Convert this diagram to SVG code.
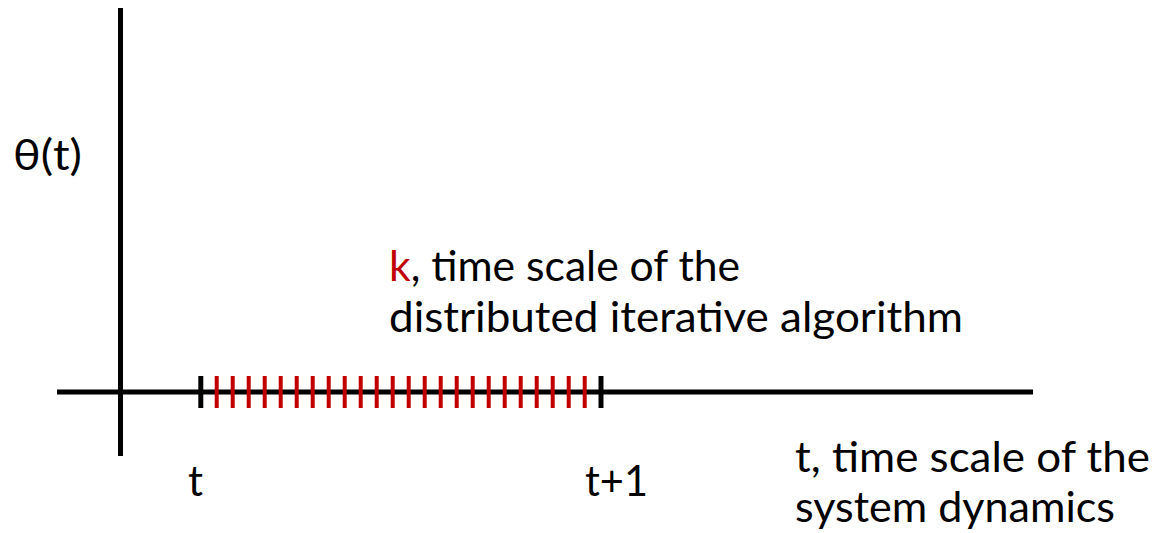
<svg xmlns="http://www.w3.org/2000/svg" width="1159" height="533" viewBox="0 0 1159 533">
<style>
.ax{stroke:#000;stroke-width:5;fill:none}
.tb{stroke:#000;stroke-width:5}
.tr{stroke:#c00000;stroke-width:4}
text{font-family:"Lato","Open Sans","Liberation Sans",sans-serif;font-size:43px;fill:#000}
.red{fill:#c00000}
</style>
<g id="axes">
<line class="ax" x1="120.5" y1="8" x2="120.5" y2="456"/>
<line class="ax" x1="57" y1="392" x2="1033" y2="392"/>
</g>
<g id="ticks">
<line class="tb" x1="200.8" y1="376" x2="200.8" y2="408"/>
<line class="tb" x1="601" y1="376" x2="601" y2="408"/>
<g class="tr">
<line x1="216.7" y1="376" x2="216.7" y2="408"/>
<line x1="232.7" y1="376" x2="232.7" y2="408"/>
<line x1="248.7" y1="376" x2="248.7" y2="408"/>
<line x1="264.7" y1="376" x2="264.7" y2="408"/>
<line x1="280.7" y1="376" x2="280.7" y2="408"/>
<line x1="296.7" y1="376" x2="296.7" y2="408"/>
<line x1="312.7" y1="376" x2="312.7" y2="408"/>
<line x1="328.7" y1="376" x2="328.7" y2="408"/>
<line x1="344.7" y1="376" x2="344.7" y2="408"/>
<line x1="360.7" y1="376" x2="360.7" y2="408"/>
<line x1="376.7" y1="376" x2="376.7" y2="408"/>
<line x1="392.7" y1="376" x2="392.7" y2="408"/>
<line x1="408.7" y1="376" x2="408.7" y2="408"/>
<line x1="424.7" y1="376" x2="424.7" y2="408"/>
<line x1="440.7" y1="376" x2="440.7" y2="408"/>
<line x1="456.7" y1="376" x2="456.7" y2="408"/>
<line x1="472.7" y1="376" x2="472.7" y2="408"/>
<line x1="488.7" y1="376" x2="488.7" y2="408"/>
<line x1="504.7" y1="376" x2="504.7" y2="408"/>
<line x1="520.7" y1="376" x2="520.7" y2="408"/>
<line x1="536.7" y1="376" x2="536.7" y2="408"/>
<line x1="552.7" y1="376" x2="552.7" y2="408"/>
<line x1="568.7" y1="376" x2="568.7" y2="408"/>
<line x1="584.7" y1="376" x2="584.7" y2="408"/>
</g>
</g>
<g id="labels">
<text x="13" y="170" font-size="40" textLength="69" lengthAdjust="spacingAndGlyphs">θ(t)</text>
<text x="389" y="281" textLength="351" lengthAdjust="spacingAndGlyphs"><tspan class="red">k</tspan>, time scale of the</text>
<text x="389" y="332" textLength="574" lengthAdjust="spacingAndGlyphs">distributed iterative algorithm</text>
<text x="188" y="496" textLength="15" lengthAdjust="spacingAndGlyphs">t</text>
<text x="585" y="496" textLength="63" lengthAdjust="spacingAndGlyphs">t+1</text>
<text x="795" y="472" textLength="355" lengthAdjust="spacingAndGlyphs">t, time scale of the</text>
<text x="795" y="522" textLength="320" lengthAdjust="spacingAndGlyphs">system dynamics</text>
</g>
</svg>
